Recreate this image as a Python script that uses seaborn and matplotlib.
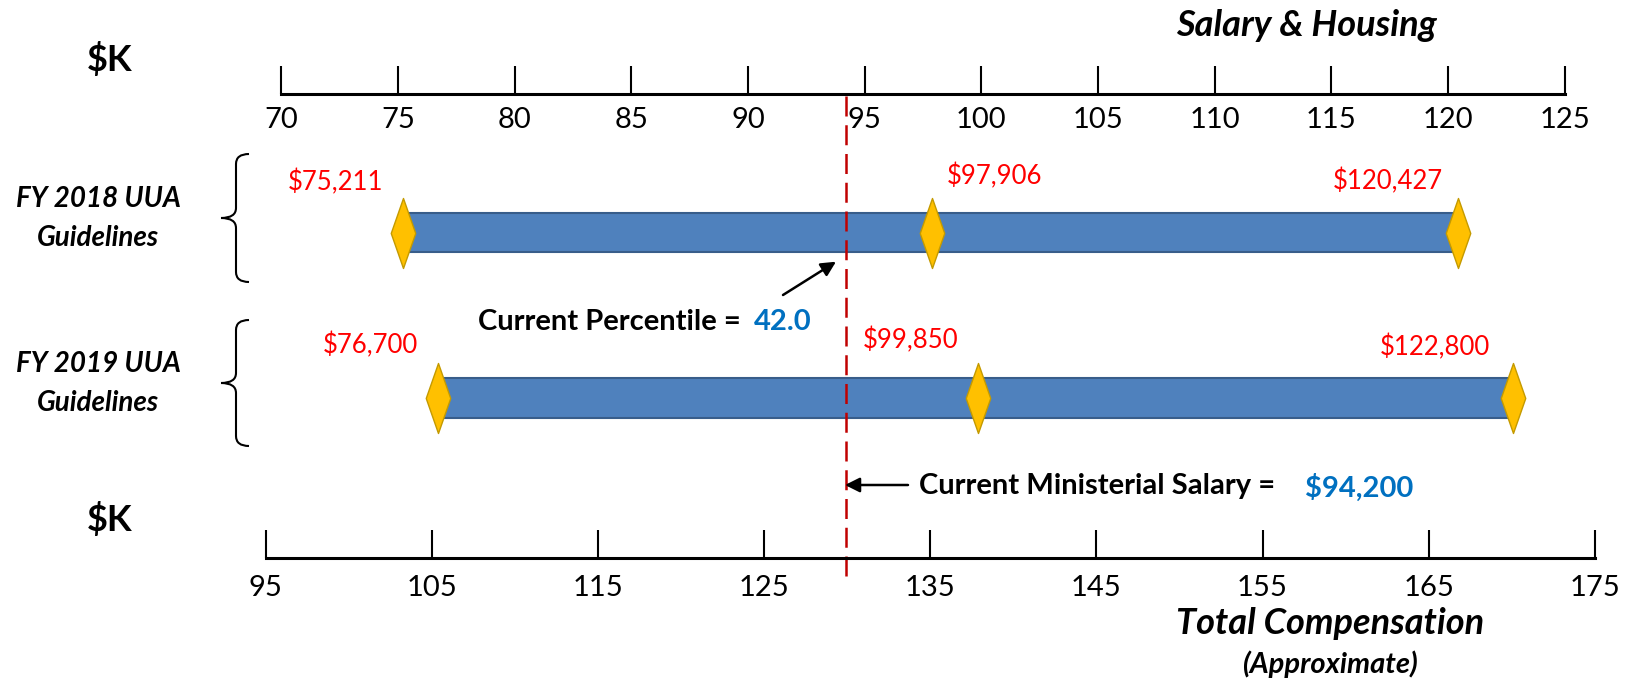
import matplotlib
matplotlib.use('Agg')
import matplotlib.pyplot as plt
import seaborn as sns
import pandas as pd
from matplotlib.path import Path
from matplotlib.patches import PathPatch

# ---------------- data ----------------
guidelines = ['FY 2018 UUA\nGuidelines', 'FY 2019 UUA\nGuidelines']
low = [75.211, 76.700]          # $K salary & housing
mid = [97.906, 99.850]
high = [120.427, 122.800]
low_labels = ['$75,211', '$76,700']
mid_labels = ['$97,906', '$99,850']
high_labels = ['$120,427', '$122,800']
current_salary = 94.2
current_salary_label = '$94,200'
current_percentile = '42.0'
top_ticks = list(range(70, 126, 5))
bottom_ticks = list(range(95, 176, 10))

# ---------------- layout ----------------
W, H, DPI = 1629, 678, 100
TOP_X0, TOP_X1 = 281.4, 1564.6      # px of 70 and 125
BOT_X0, BOT_X1 = 265.7, 1594.8      # px of 95 and 175
TOP_Y, BOT_Y = 94, 558.3
ROW_Y = [232.5, 398.3]
BAR_H = 39.7
DIAMOND_H = 70
# label pixel offsets relative to marker (dx, y)
low_off = [(-67, 182), (-67, 345)]
mid_off = [(62, 176), (-67, 340)]
high_off = [(-70, 181), (-78, 347)]
BRACES = [(154, 218, 282), (320, 383, 446)]

sns.set_theme(style='white')
plt.rcParams['font.family'] = ['Lato', 'DejaVu Sans']
plt.rcParams['text.color'] = 'black'
plt.rcParams['xtick.color'] = 'black'
plt.rcParams['xtick.labelcolor'] = 'black'

fig = plt.figure(figsize=(W / DPI, H / DPI), dpi=DPI)
fig.patch.set_facecolor('white')

ppu = (TOP_X1 - TOP_X0) / (125 - 70)
xmin = 70 - TOP_X0 / ppu
xmax = xmin + W / ppu

# data axes (x in salary $K, y in px)
ax = fig.add_axes([0, 0, 1, 1])

# overlay axes in pixels
ov = fig.add_axes([0, 0, 1, 1], zorder=5)
ov.set_xlim(0, W)
ov.set_ylim(H, 0)
ov.axis('off')
ov.patch.set_alpha(0)

# bars
ax.barh(ROW_Y, [h - l for h, l in zip(high, low)], left=low, height=BAR_H,
        color='#4F81BD', edgecolor='#385D8A', linewidth=1.5, zorder=2)

# diamonds
df = pd.DataFrame({
    'value': low + mid + high,
    'row': ROW_Y * 3,
})
diamond = Path([(0, 1), (0.35, 0), (0, -1), (-0.35, 0), (0, 1)],
               [Path.MOVETO, Path.LINETO, Path.LINETO, Path.LINETO, Path.CLOSEPOLY])
size_pt = DIAMOND_H * 72 / DPI
sns.scatterplot(data=df, x='value', y='row', marker=diamond, s=size_pt ** 2,
                color='#FFC000', edgecolor='#C49A00', linewidth=1, ax=ax, zorder=3,
                legend=False)
ax.set_xlim(xmin, xmax)
ax.set_ylim(H, 0)
ax.axis('off')

# value labels
for vals, labs, offs in [(low, low_labels, low_off), (mid, mid_labels, mid_off),
                         (high, high_labels, high_off)]:
    for v, lab, (dx, y) in zip(vals, labs, offs):
        xp = TOP_X0 + (v - 70) * ppu + dx
        ov.text(xp, y, lab, color='#FF0000', fontsize=18.5, ha='center', va='center')

# dashed current-salary line
ax.vlines(current_salary, TOP_Y + 2, 583, colors='#C00000',
          linestyles=(0, (8, 3.5)), linewidth=1.8, zorder=4)


def number_line(rect, lo, hi, ticks, pad):
    a = fig.add_axes(rect)
    a.set_xlim(lo, hi)
    a.set_xticks(ticks)
    a.set_yticks([])
    for s in ['top', 'left', 'right']:
        a.spines[s].set_visible(False)
    a.spines['bottom'].set_linewidth(2.2)
    a.spines['bottom'].set_color('black')
    a.patch.set_alpha(0)
    a.tick_params(axis='x', direction='in', length=20, width=1.5, color='black',
                  labelsize=21, pad=pad, bottom=True, labelcolor='black')
    return a


number_line([TOP_X0 / W, 1 - TOP_Y / H, (TOP_X1 - TOP_X0) / W, 0.0001],
            70, 125, top_ticks, 9)
number_line([BOT_X0 / W, 1 - BOT_Y / H, (BOT_X1 - BOT_X0) / W, 0.0001],
            95, 175, bottom_ticks, 12)

# titles
ov.text(1306, 25, 'Salary & Housing', fontsize=26, fontweight='bold',
        fontstyle='italic', ha='center', va='center')
ov.text(110, 60, '$K', fontsize=26, fontweight='bold', ha='center', va='center')
ov.text(110, 520, '$K', fontsize=26, fontweight='bold', ha='center', va='center')
ov.text(1330, 623, 'Total Compensation', fontsize=26, fontweight='bold',
        fontstyle='italic', ha='center', va='center')
ov.text(1330, 664, '(Approximate)', fontsize=21, fontweight='bold',
        fontstyle='italic', ha='center', va='center')

# row labels and braces
for lab, (yt, ym, yb) in zip(guidelines, BRACES):
    l1, l2 = lab.split('\n')
    ov.text(98, ym - 19, l1, fontsize=20, fontweight='bold', fontstyle='italic',
            ha='center', va='center')
    ov.text(98, ym + 20, l2, fontsize=20, fontweight='bold', fontstyle='italic',
            ha='center', va='center')
    xr, xs, xp = 249, 236, 221
    verts = [(xr, yt), (xs, yt), (xs, yt + 10), (xs, ym - 10),
             (xs, ym), (xp, ym), (xp, ym),
             (xs, ym), (xs, ym + 10),
             (xs, yb - 10), (xs, yb), (xr, yb)]
    codes = [Path.MOVETO, Path.CURVE3, Path.CURVE3, Path.LINETO,
             Path.CURVE3, Path.CURVE3, Path.MOVETO,
             Path.CURVE3, Path.CURVE3,
             Path.LINETO, Path.CURVE3, Path.CURVE3]
    ov.add_patch(PathPatch(Path(verts, codes), fill=False, lw=1.5, color='black'))

# annotations
ov.text(478, 322, 'Current Percentile = ', fontsize=21, fontweight='bold',
        ha='left', va='center')
ov.text(754, 322, current_percentile, fontsize=21, fontweight='bold',
        color='#0070C0', ha='left', va='center')
ov.annotate('', xy=(836, 261.7), xytext=(783, 295),
            arrowprops=dict(arrowstyle='-|>', color='black', lw=1.8, mutation_scale=22,
                            shrinkA=0, shrinkB=0))
ov.text(919, 486, 'Current Ministerial Salary = ', fontsize=21, fontweight='bold',
        ha='left', va='center')
ov.text(1305, 488, current_salary_label, fontsize=21, fontweight='bold',
        color='#0070C0', ha='left', va='center')
ov.annotate('', xy=(845, 485), xytext=(908, 485),
            arrowprops=dict(arrowstyle='-|>', color='black', lw=1.8, mutation_scale=22,
                            shrinkA=0, shrinkB=0))

fig.savefig('out.png', dpi=DPI, facecolor='white')
